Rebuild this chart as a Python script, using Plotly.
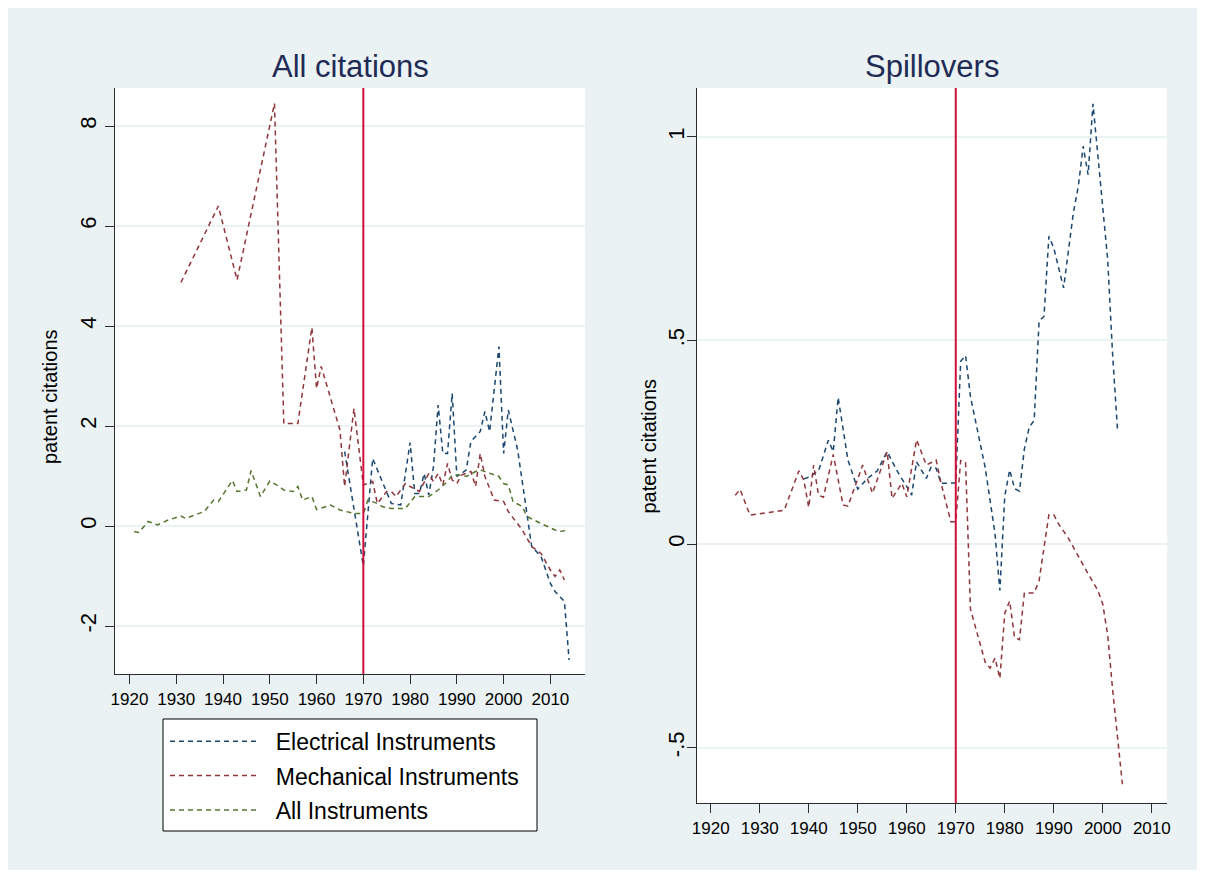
import plotly.graph_objects as go

# ---- All citations panel ----
elec_years = [1966, 1970, 1972, 1975, 1976, 1978, 1980, 1981, 1982, 1983, 1984, 1985,
              1986, 1987, 1988, 1989, 1990, 1992, 1993, 1995, 1996, 1997, 1999, 2000,
              2001, 2003, 2005, 2006, 2008, 2010, 2011, 2013, 2014]
elec_all = [1.49, -0.80, 1.35, 0.65, 0.45, 0.42, 1.67, 0.65, 0.65, 1.05, 0.62, 1.19,
            2.42, 1.45, 1.45, 2.65, 0.99, 1.12, 1.69, 1.89, 2.29, 1.89, 3.59, 1.45,
            2.32, 1.52, 0.25, -0.41, -0.61, -1.15, -1.31, -1.51, -2.68]

mech_years = [1931, 1939, 1943, 1951, 1953, 1956, 1959, 1960, 1961, 1965, 1966, 1968,
              1970, 1972, 1973, 1975, 1976, 1977, 1979, 1980, 1982, 1984, 1985, 1986,
              1987, 1988, 1989, 1990, 1991, 1993, 1994, 1995, 1996, 1998, 2000, 2001,
              2004, 2006, 2008, 2010, 2011, 2012, 2013]
mech_all = [4.87, 6.40, 4.92, 8.45, 2.05, 2.05, 3.97, 2.75, 3.19, 1.92, 0.79, 2.35,
            0.82, 0.89, 0.45, 0.69, 0.69, 0.59, 0.85, 0.79, 0.69, 1.05, 0.89, 1.05,
            0.82, 1.25, 0.92, 0.85, 1.02, 1.09, 0.79, 1.45, 0.99, 0.52, 0.49, 0.29,
            -0.08, -0.41, -0.55, -0.88, -1.01, -0.88, -1.08]

all_years = [1921, 1922, 1924, 1926, 1928, 1931, 1932, 1936, 1938, 1939, 1942, 1943,
             1945, 1946, 1948, 1950, 1952, 1953, 1955, 1956, 1957, 1959, 1960, 1963,
             1965, 1968, 1970, 1971, 1973, 1974, 1976, 1979, 1981, 1984, 1986, 1988,
             1989, 1991, 1992, 1994, 1995, 1997, 1999, 2000, 2001, 2002, 2004, 2005,
             2007, 2008, 2011, 2012, 2014]
all_all = [-0.11, -0.13, 0.09, 0.02, 0.11, 0.20, 0.15, 0.29, 0.52, 0.49, 0.91, 0.69,
           0.72, 1.11, 0.59, 0.90, 0.79, 0.72, 0.69, 0.79, 0.52, 0.59, 0.33, 0.42,
           0.32, 0.25, 0.25, 0.52, 0.45, 0.39, 0.35, 0.35, 0.59, 0.59, 0.72, 0.89,
           1.02, 1.02, 0.99, 1.09, 1.12, 1.05, 0.99, 0.85, 0.82, 0.49, 0.39, 0.19,
           0.09, 0.05, -0.08, -0.11, -0.08]

# ---- Spillovers panel ----
elec_sp_years = [1939, 1940, 1942, 1944, 1945, 1946, 1948, 1950, 1952, 1954, 1956, 1958,
                 1960, 1961, 1962, 1964, 1965, 1966, 1967, 1969, 1970, 1971, 1972, 1973,
                 1976, 1978, 1979, 1980, 1981, 1982, 1983, 1984, 1985, 1986, 1987, 1988,
                 1989, 1990, 1992, 1994, 1995, 1996, 1997, 1998, 1999, 2001, 2002, 2003]
elec_sp = [0.160, 0.164, 0.180, 0.255, 0.227, 0.360, 0.206, 0.135, 0.161, 0.180, 0.227, 0.180,
           0.141, 0.120, 0.202, 0.161, 0.190, 0.186, 0.149, 0.149, 0.150, 0.449, 0.463, 0.362,
           0.188, 0.026, -0.114, 0.118, 0.182, 0.136, 0.130, 0.234, 0.287, 0.304, 0.548, 0.559,
           0.756, 0.727, 0.629, 0.814, 0.878, 0.977, 0.907, 1.081, 0.954, 0.698, 0.466, 0.281]

mech_sp_years = [1925, 1926, 1928, 1935, 1938, 1939, 1940, 1941, 1942, 1943, 1945, 1947,
                 1948, 1951, 1953, 1956, 1957, 1959, 1960, 1962, 1964, 1966, 1967, 1969,
                 1970, 1971, 1972, 1973, 1976, 1977, 1978, 1979, 1980, 1981, 1982, 1983,
                 1984, 1986, 1987, 1989, 1990, 1991, 1993, 1995, 1997, 1999, 2000, 2001,
                 2002, 2004]
mech_sp = [0.120, 0.134, 0.071, 0.083, 0.180, 0.157, 0.090, 0.194, 0.120, 0.115, 0.220, 0.096,
           0.093, 0.194, 0.125, 0.227, 0.112, 0.149, 0.116, 0.256, 0.194, 0.206, 0.149, 0.055,
           0.055, 0.205, 0.200, -0.160, -0.290, -0.305, -0.280, -0.330, -0.170, -0.140, -0.230, -0.235,
           -0.120, -0.120, -0.090, 0.072, 0.072, 0.049, 0.014, -0.030, -0.073, -0.114, -0.148, -0.224,
           -0.357, -0.590]

year_ticks = list(range(1920, 2011, 10))
left_yticks = [-2, 0, 2, 4, 6, 8]
left_ytext = ["-2", "0", "2", "4", "6", "8"]
right_yticks = [-0.5, 0, 0.5, 1]
right_ytext = ["-.5", "0", ".5", "1"]

NAVY = "#1a476f"
MAROON = "#90353b"
GREEN = "#55752f"
VLINE = "#d0103a"
BG = "#eaf2f3"
FONT = "Liberation Sans, Arial, sans-serif"

# page has an 8px body margin, which gives the white frame
W, H = 1189, 862
OFF = 8


def px(x):
    return (x - OFF) / W


def py(y):
    return 1 - (y - OFF) / H


dash = "5px,4px"
pad = "\u00a0\u00a0"

fig = go.Figure()

fig.add_trace(go.Scatter(x=elec_years, y=elec_all, mode="lines", name=pad + "Electrical Instruments",
                         legendgroup="e", line=dict(color=NAVY, width=1.5, dash=dash),
                         xaxis="x", yaxis="y"))
fig.add_trace(go.Scatter(x=mech_years, y=mech_all, mode="lines", name=pad + "Mechanical Instruments",
                         legendgroup="m", line=dict(color=MAROON, width=1.5, dash=dash),
                         xaxis="x", yaxis="y"))
fig.add_trace(go.Scatter(x=all_years, y=all_all, mode="lines", name=pad + "All Instruments",
                         legendgroup="a", line=dict(color=GREEN, width=1.5, dash=dash),
                         xaxis="x", yaxis="y"))

fig.add_trace(go.Scatter(x=elec_sp_years, y=elec_sp, mode="lines", showlegend=False,
                         line=dict(color=NAVY, width=1.5, dash=dash), xaxis="x2", yaxis="y2"))
fig.add_trace(go.Scatter(x=mech_sp_years, y=mech_sp, mode="lines", showlegend=False,
                         line=dict(color=MAROON, width=1.5, dash=dash), xaxis="x2", yaxis="y2"))

# 1970 marker line in both panels
for xr, yr in [("x", "y"), ("x2", "y2")]:
    fig.add_shape(type="line", xref=xr, yref=yr + " domain", x0=1970, x1=1970, y0=0, y1=1,
                  line=dict(color=VLINE, width=2), layer="above")

# legend frame
fig.add_shape(type="rect", xref="paper", yref="paper",
              x0=px(163), x1=px(537), y0=py(831), y1=py(719),
              line=dict(color="black", width=1), fillcolor="white", layer="below")

xaxis_common = dict(
    tickvals=year_ticks, showgrid=False, zeroline=False,
    showline=True, linecolor="#2b2b2b", linewidth=1.2,
    ticks="outside", ticklen=9, tickcolor="#2b2b2b", tickwidth=1.2,
    tickfont=dict(size=17, color="black", family=FONT),
)
yaxis_common = dict(
    showgrid=True, gridcolor=BG, gridwidth=2, zeroline=False,
    showline=True, linecolor="#2b2b2b", linewidth=1.2,
    ticks="outside", ticklen=9, tickcolor="#2b2b2b", tickwidth=1.2,
    tickangle=-90,
    tickfont=dict(size=22, color="black", family=FONT),
)

title_font = dict(size=31, color="#1f2b55", family=FONT)
ytitle_font = dict(size=20, color="black", family=FONT)

fig.update_layout(
    width=W, height=H,
    template="none",
    paper_bgcolor=BG, plot_bgcolor="white",
    margin=dict(l=0, r=0, t=0, b=0),
    font=dict(family=FONT, color="black"),
    xaxis=dict(domain=[px(115), px(585)], range=[1916.9, 2017.4], anchor="y", **xaxis_common),
    yaxis=dict(domain=[py(674), py(88)], range=[-2.96, 8.76], anchor="x",
               tickvals=left_yticks, ticktext=left_ytext, ticklabelstandoff=0,
               **yaxis_common),
    xaxis2=dict(domain=[px(697), px(1167)], range=[1917.2, 2013.1], anchor="y2", **xaxis_common),
    yaxis2=dict(domain=[py(803), py(88)], range=[-0.636, 1.12], anchor="x2",
                tickvals=right_yticks, ticktext=right_ytext, ticklabelstandoff=-6,
                **yaxis_common),
    legend=dict(
        x=px(165), y=py(719.7), xanchor="left", yanchor="top",
        bgcolor="rgba(0,0,0,0)", borderwidth=0,
        font=dict(size=23, color="black", family=FONT),
        itemwidth=88, tracegroupgap=1.5,
    ),
    annotations=[
        dict(text="All citations", x=px(350), y=py(67), xref="paper", yref="paper",
             showarrow=False, font=title_font, xanchor="center", yanchor="middle"),
        dict(text="Spillovers", x=px(932), y=py(67), xref="paper", yref="paper",
             showarrow=False, font=title_font, xanchor="center", yanchor="middle"),
        dict(text="patent citations", x=px(50), y=py(397), xref="paper", yref="paper",
             showarrow=False, font=ytitle_font, textangle=-90,
             xanchor="center", yanchor="middle"),
        dict(text="patent citations", x=px(648.5), y=py(446), xref="paper", yref="paper",
             showarrow=False, font=ytitle_font, textangle=-90,
             xanchor="center", yanchor="middle"),
    ],
)

fig.write_html("out.html")
